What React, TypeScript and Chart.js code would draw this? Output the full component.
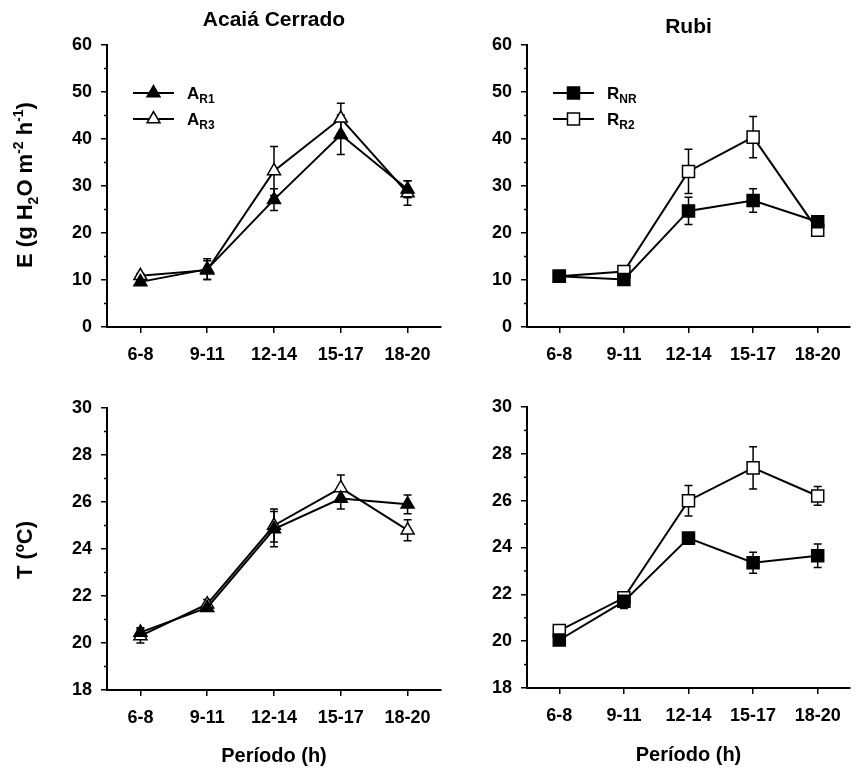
import React, { useEffect, useRef } from "react";
import { Chart, registerables } from "chart.js";

Chart.register(...registerables);

const FONT = "'Liberation Sans', Arial, Helvetica, sans-serif";

// ---- data ----
const periods = ["6-8", "9-11", "12-14", "15-17", "18-20"];

const eTicks = [0, 10, 20, 30, 40, 50, 60];
const tTicks = [18, 20, 22, 24, 26, 28, 30];

// Acaiá Cerrado – transpiration E
const eAcaiaR1 = [9.6, 12.3, 27.1, 40.9, 29.3];
const eAcaiaR1Err = [0.6, 2.2, 2.3, 4.2, 1.8];
const eAcaiaR3 = [10.9, 12.1, 33.2, 44.4, 28.5];
const eAcaiaR3Err = [0.5, 2.0, 5.2, 3.2, 2.6];

// Rubi – transpiration E
const eRubiNR = [10.8, 10.1, 24.7, 26.9, 22.4];
const eRubiNRErr = [0.5, 0.6, 2.9, 2.5, 0.6];
const eRubiR2 = [10.8, 11.8, 33.1, 40.4, 20.6];
const eRubiR2Err = [0.4, 0.8, 4.7, 4.4, 0.5];

// Acaiá Cerrado – temperature T
const tAcaiaR1 = [20.45, 21.5, 24.85, 26.15, 25.9];
const tAcaiaR1Err = [0.2, 0.15, 0.75, 0.45, 0.4];
const tAcaiaR3 = [20.3, 21.65, 25.0, 26.6, 24.8];
const tAcaiaR3Err = [0.3, 0.2, 0.7, 0.55, 0.45];

// Rubi – temperature T
const tRubiNR = [20.05, 21.7, 24.4, 23.35, 23.65];
const tRubiNRErr = [0.15, 0.3, 0.15, 0.45, 0.5];
const tRubiR2 = [20.45, 21.85, 26.0, 27.4, 26.2];
const tRubiR2Err = [0.15, 0.2, 0.65, 0.9, 0.4];

// ---- helpers ----
type Seg = { t: string; size: number; dy: number };

function drawRich(ctx: CanvasRenderingContext2D, segs: Seg[], x: number, y: number, align: "left" | "center", rotate: boolean) {
  ctx.save();
  ctx.translate(x, y);
  if (rotate) ctx.rotate(-Math.PI / 2);
  ctx.fillStyle = "#000";
  ctx.textBaseline = "alphabetic";
  ctx.textAlign = "left";
  let total = 0;
  const widths = segs.map((s) => {
    ctx.font = `bold ${s.size}px ${FONT}`;
    const w = ctx.measureText(s.t).width;
    total += w;
    return w;
  });
  let cx = align === "center" ? -total / 2 : 0;
  segs.forEach((s, i) => {
    ctx.font = `bold ${s.size}px ${FONT}`;
    ctx.fillText(s.t, cx, s.dy);
    cx += widths[i];
  });
  ctx.restore();
}

function drawMarker(ctx: CanvasRenderingContext2D, style: string, filled: boolean, x: number, y: number, r: number) {
  ctx.save();
  ctx.beginPath();
  if (style === "triangle") {
    let rad = 0;
    ctx.moveTo(x + Math.sin(rad) * r, y - Math.cos(rad) * r);
    rad += (2 * Math.PI) / 3;
    ctx.lineTo(x + Math.sin(rad) * r, y - Math.cos(rad) * r);
    rad += (2 * Math.PI) / 3;
    ctx.lineTo(x + Math.sin(rad) * r, y - Math.cos(rad) * r);
    ctx.closePath();
  } else {
    const s = Math.SQRT1_2 * r;
    ctx.rect(x - s, y - s, 2 * s, 2 * s);
  }
  ctx.fillStyle = filled ? "#000" : "#fff";
  ctx.fill();
  ctx.lineWidth = 1.5;
  ctx.strokeStyle = "#000";
  ctx.stroke();
  ctx.restore();
}

type Series = { data: number[]; err: number[]; style: "triangle" | "rect"; filled: boolean; main: string; sub: string };

type PanelCfg = {
  left: number;
  top: number;
  width: number;
  height: number;
  area: { left: number; top: number; right: number; bottom: number };
  ticks: number[];
  series: Series[];
  title?: { text: string; baseline: number };
  legend?: boolean;
  yTitle?: { segs: Seg[]; x: number; y: number };
  xTitle?: { text: string; baseline: number };
};

const yTitleE: Seg[] = [
  { t: "E (g H", size: 22, dy: 0 },
  { t: "2", size: 14, dy: 6 },
  { t: "O m", size: 22, dy: 0 },
  { t: "-2", size: 14, dy: -9 },
  { t: " h", size: 22, dy: 0 },
  { t: "-1", size: 14, dy: -9 },
  { t: ")", size: 22, dy: 0 },
];
const yTitleT: Seg[] = [{ t: "T (ºC)", size: 22, dy: 0 }];

const panels: PanelCfg[] = [
  {
    left: 0, top: 0, width: 450, height: 375,
    area: { left: 107, top: 45, right: 442, bottom: 327 },
    ticks: eTicks,
    series: [
      { data: eAcaiaR1, err: eAcaiaR1Err, style: "triangle", filled: true, main: "A", sub: "R1" },
      { data: eAcaiaR3, err: eAcaiaR3Err, style: "triangle", filled: false, main: "A", sub: "R3" },
    ],
    title: { text: "Acaiá Cerrado", baseline: 26 },
    legend: true,
    yTitle: { segs: yTitleE, x: 32, y: 185 },
  },
  {
    left: 450, top: 0, width: 410, height: 375,
    area: { left: 77, top: 45, right: 410, bottom: 327 },
    ticks: eTicks,
    series: [
      { data: eRubiNR, err: eRubiNRErr, style: "rect", filled: true, main: "R", sub: "NR" },
      { data: eRubiR2, err: eRubiR2Err, style: "rect", filled: false, main: "R", sub: "R2" },
    ],
    title: { text: "Rubi", baseline: 33 },
    legend: true,
  },
  {
    left: 0, top: 375, width: 450, height: 396,
    area: { left: 107, top: 33, right: 442, bottom: 315 },
    ticks: tTicks,
    series: [
      { data: tAcaiaR1, err: tAcaiaR1Err, style: "triangle", filled: true, main: "A", sub: "R1" },
      { data: tAcaiaR3, err: tAcaiaR3Err, style: "triangle", filled: false, main: "A", sub: "R3" },
    ],
    yTitle: { segs: yTitleT, x: 32, y: 175 },
    xTitle: { text: "Período (h)", baseline: 387 },
  },
  {
    left: 450, top: 375, width: 410, height: 396,
    area: { left: 77, top: 32, right: 410, bottom: 313 },
    ticks: tTicks,
    series: [
      { data: tRubiNR, err: tRubiNRErr, style: "rect", filled: true, main: "R", sub: "NR" },
      { data: tRubiR2, err: tRubiR2Err, style: "rect", filled: false, main: "R", sub: "R2" },
    ],
    xTitle: { text: "Período (h)", baseline: 386 },
  },
];

function markerRadius(style: string) {
  return style === "rect" ? 8.5 : 7.5;
}

function PanelChart({ cfg }: { cfg: PanelCfg }) {
  const ref = useRef<HTMLCanvasElement | null>(null);
  useEffect(() => {
    if (!ref.current) return;
    const a = cfg.area;
    const errorBars = {
      id: "errorBars",
      beforeDatasetsDraw(chart: any) {
        const ctx = chart.ctx;
        const ys = chart.scales.y;
        cfg.series.forEach((s, di) => {
          const meta = chart.getDatasetMeta(di);
          ctx.save();
          ctx.strokeStyle = "#000";
          ctx.lineWidth = 1.5;
          meta.data.forEach((pt: any, i: number) => {
            const v = s.data[i];
            const e = s.err[i];
            const yt = ys.getPixelForValue(v + e);
            const yb = ys.getPixelForValue(v - e);
            const x = pt.x;
            ctx.beginPath();
            ctx.moveTo(x, yt);
            ctx.lineTo(x, yb);
            ctx.moveTo(x - 4, yt);
            ctx.lineTo(x + 4, yt);
            ctx.moveTo(x - 4, yb);
            ctx.lineTo(x + 4, yb);
            ctx.stroke();
          });
          ctx.restore();
        });
      },
    };
    const decorations = {
      id: "decorations",
      afterDraw(chart: any) {
        const ctx = chart.ctx;
        const ca = chart.chartArea;
        const ys = chart.scales.y;
        // minor ticks
        ctx.save();
        ctx.strokeStyle = "#000";
        ctx.lineWidth = 1.5;
        for (let i = 0; i < cfg.ticks.length - 1; i++) {
          const mid = (cfg.ticks[i] + cfg.ticks[i + 1]) / 2;
          const py = ys.getPixelForValue(mid);
          ctx.beginPath();
          ctx.moveTo(ca.left - 3, py);
          ctx.lineTo(ca.left, py);
          ctx.stroke();
        }
        ctx.restore();
        if (cfg.title) {
          drawRich(ctx, [{ t: cfg.title.text, size: 21, dy: 0 }], (ca.left + ca.right) / 2, cfg.title.baseline, "center", false);
        }
        if (cfg.xTitle) {
          drawRich(ctx, [{ t: cfg.xTitle.text, size: 20, dy: 0 }], (ca.left + ca.right) / 2, cfg.xTitle.baseline, "center", false);
        }
        if (cfg.yTitle) {
          drawRich(ctx, cfg.yTitle.segs, cfg.yTitle.x, cfg.yTitle.y, "center", true);
        }
        if (cfg.legend) {
          cfg.series.forEach((s, i) => {
            const ry = ca.top + 48 + i * 26;
            const x0 = ca.left + 26;
            const x1 = ca.left + 67;
            ctx.save();
            ctx.strokeStyle = "#000";
            ctx.lineWidth = 2;
            ctx.beginPath();
            ctx.moveTo(x0, ry);
            ctx.lineTo(x1, ry);
            ctx.stroke();
            ctx.restore();
            drawMarker(ctx, s.style, s.filled, (x0 + x1) / 2, ry, markerRadius(s.style));
            drawRich(
              ctx,
              [
                { t: s.main, size: 17, dy: 0 },
                { t: s.sub, size: 12, dy: 4 },
              ],
              ca.left + 80,
              ry + 6,
              "left",
              false
            );
          });
        }
      },
    };
    const chart = new Chart(ref.current, {
      type: "line",
      data: {
        labels: periods,
        datasets: cfg.series.map((s) => ({
          label: s.main + s.sub,
          data: s.data,
          borderColor: "#000",
          borderWidth: 2,
          tension: 0,
          pointStyle: s.style,
          pointRadius: markerRadius(s.style),
          pointBorderWidth: 1.5,
          pointBackgroundColor: s.filled ? "#000" : "#fff",
          pointBorderColor: "#000",
          fill: false,
        })),
      },
      options: {
        animation: false,
        responsive: false,
        events: [],
        layout: {
          padding: { left: 0, top: a.top, right: cfg.width - a.right, bottom: 0 },
        },
        plugins: {
          legend: { display: false },
          title: { display: false },
          tooltip: { enabled: false },
        },
        scales: {
          x: {
            type: "category",
            offset: true,
            grid: { display: true, drawOnChartArea: false, drawTicks: true, tickLength: 6, color: "#000", lineWidth: 1.5, offset: false },
            border: { display: true, color: "#000", width: 2 },
            ticks: { color: "#000", font: { family: FONT, size: 18, weight: "bold" }, padding: 11, maxRotation: 0, autoSkip: false },
            afterFit: (s: any) => {
              s.height = cfg.height - a.bottom;
            },
          },
          y: {
            type: "linear",
            min: cfg.ticks[0],
            max: cfg.ticks[cfg.ticks.length - 1],
            afterBuildTicks: (s: any) => {
              s.ticks = cfg.ticks.map((v) => ({ value: v }));
            },
            grid: { display: true, drawOnChartArea: false, drawTicks: true, tickLength: 6, color: "#000", lineWidth: 1.5 },
            border: { display: true, color: "#000", width: 2 },
            ticks: { color: "#000", font: { family: FONT, size: 18, weight: "bold" }, padding: 9 },
            afterFit: (s: any) => {
              s.width = a.left;
            },
          },
        },
      },
      plugins: [errorBars, decorations],
    } as any);
    return () => chart.destroy();
  }, [cfg]);
  return (
    <canvas
      ref={ref}
      width={cfg.width}
      height={cfg.height}
      style={{ position: "absolute", left: cfg.left, top: cfg.top, width: cfg.width, height: cfg.height }}
    />
  );
}

export default function App() {
  return (
    <div style={{ position: "absolute", left: 0, top: 0, width: 860, height: 771, background: "#fff", overflow: "hidden" }}>
      {panels.map((p, i) => (
        <PanelChart key={i} cfg={p} />
      ))}
    </div>
  );
}
